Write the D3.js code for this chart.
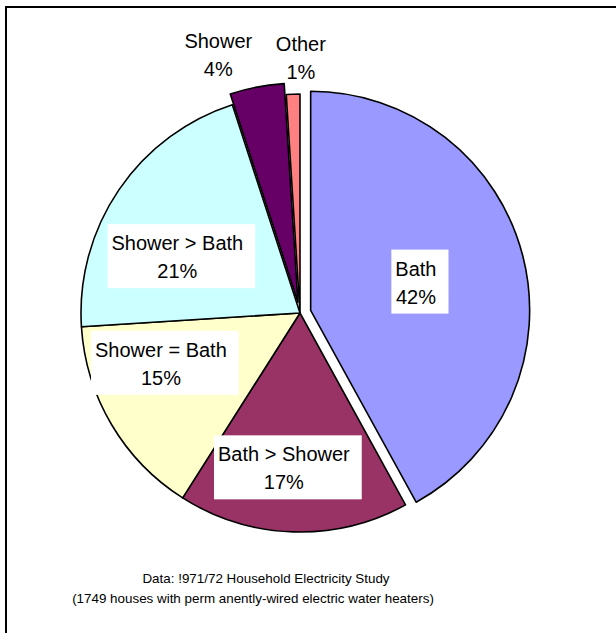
<!DOCTYPE html>
<html>
<head>
<meta charset="utf-8">
<script src="https://cdn.jsdelivr.net/npm/d3@7"></script>
<style>
  html, body { margin: 0; padding: 0; background: #fff; }
  svg { display: block; }
  text { font-family: "Liberation Sans", Arial, Helvetica, sans-serif; fill: #000; }
</style>
</head>
<body>
<svg id="chart" width="616" height="633"></svg>
<script>
// ---- data ----
const categories = ["Bath", "Bath > Shower", "Shower = Bath", "Shower > Bath", "Shower", "Other"];
const values = [42, 17, 15, 21, 4, 1];
const percentLabels = ["42%", "17%", "15%", "21%", "4%", "1%"];
const colors = ["#9999FF", "#993366", "#FFFFCC", "#CCFFFF", "#660066", "#FF8080"];
const explodedCategories = ["Bath", "Shower"];
const footnotes = [
  "Data: !971/72 Household Electricity Study",
  "(1749 houses with perm anently-wired electric water heaters)"
];

// ---- layout (styling, not data) ----
const W = 616, H = 633;
const cx = 300, cy = 313, R = 219, explodeDist = 11;
const labelR = 0.6 * R;
// label nudges from label-arc centroid [dx, dy]
const labelNudge = [[-22, 5], [-12, 24], [-26, -16], [-14, 18], [-55, -118], [5, -124]];
const boxedLabels = [true, true, true, true, false, false];

const svg = d3.select("#chart");

// frame
svg.append("rect")
  .attr("x", 6).attr("y", 7).attr("width", W + 20).attr("height", H + 20)
  .attr("fill", "none").attr("stroke", "#000").attr("stroke-width", 2);

const pie = d3.pie().sort(null).value(d => d.value);
const data = categories.map((c, i) => ({ cat: c, value: values[i], pct: percentLabels[i], color: colors[i], i }));
const arcs = pie(data);

const arc = d3.arc().innerRadius(0).outerRadius(R);
const labelArc = d3.arc().innerRadius(labelR).outerRadius(labelR);

function offset(d) {
  if (!explodedCategories.includes(d.data.cat)) return [0, 0];
  const a = (d.startAngle + d.endAngle) / 2;
  return [explodeDist * Math.sin(a), -explodeDist * Math.cos(a)];
}

const g = svg.append("g").attr("transform", `translate(${cx},${cy})`);

g.selectAll("path.slice")
  .data(arcs)
  .join("path")
  .attr("class", "slice")
  .attr("d", arc)
  .attr("transform", d => { const o = offset(d); return `translate(${o[0]},${o[1]})`; })
  .attr("fill", d => d.data.color)
  .attr("stroke", "#000")
  .attr("stroke-width", 1.6)
  .attr("stroke-linejoin", "round");

// labels
const lineGap = 28;
const fontSize = 20;
const labels = g.selectAll("g.lbl")
  .data(arcs)
  .join("g")
  .attr("class", "lbl")
  .attr("transform", d => {
    const o = offset(d);
    const c = labelArc.centroid(d);
    const n = labelNudge[d.data.i];
    return `translate(${c[0] + o[0] + n[0]},${c[1] + o[1] + n[1]})`;
  });

labels.each(function(d) {
  const sel = d3.select(this);
  const rect = sel.append("rect").attr("fill", "#fff");
  const t1 = sel.append("text")
    .attr("text-anchor", "middle")
    .attr("y", -lineGap / 2 + 7)
    .style("font-size", fontSize + "px")
    .text(d.data.cat);
  const t2 = sel.append("text")
    .attr("text-anchor", "middle")
    .attr("y", lineGap / 2 + 7)
    .style("font-size", fontSize + "px")
    .text(d.data.pct);
  if (boxedLabels[d.data.i]) {
    const w = Math.max(t1.node().getComputedTextLength(), t2.node().getComputedTextLength());
    rect.attr("x", -w / 2 - 4).attr("width", w + 16)
      .attr("y", -lineGap / 2 + 7 - 26).attr("height", lineGap + 36);
  } else {
    rect.remove();
  }
});

// footnotes
svg.selectAll("text.foot")
  .data(footnotes)
  .join("text")
  .attr("class", "foot")
  .attr("x", (d, i) => i === 0 ? 266 : 253)
  .attr("y", (d, i) => 583 + i * 20)
  .attr("text-anchor", "middle")
  .style("font-size", "13.4px")
  .text(d => d);
</script>
</body>
</html>
